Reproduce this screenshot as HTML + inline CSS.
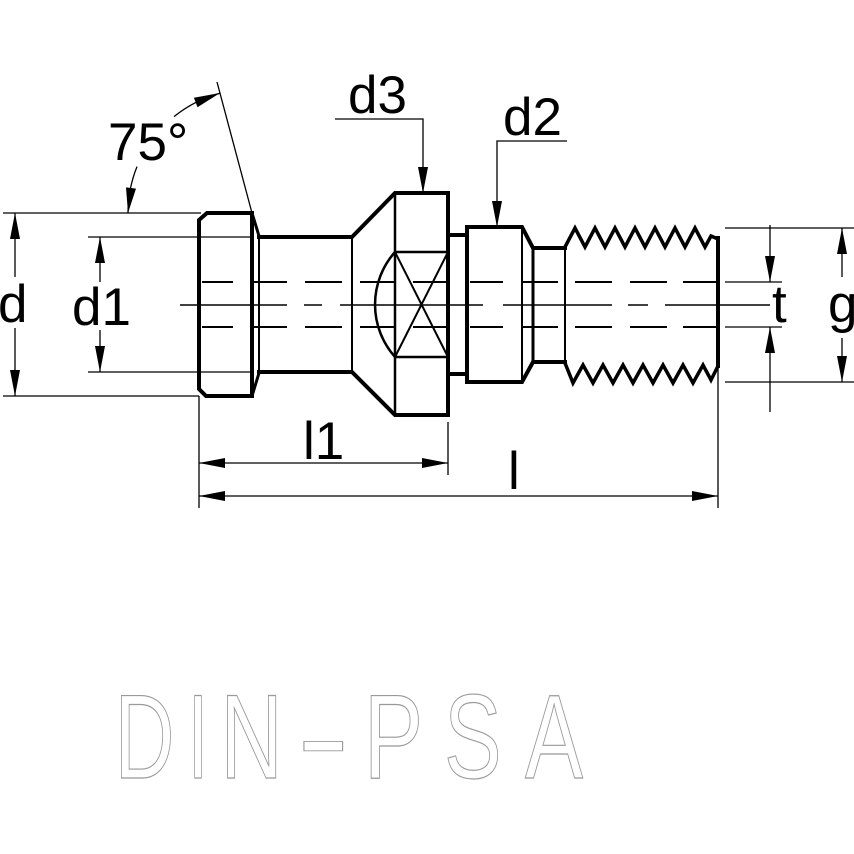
<!DOCTYPE html>
<html>
<head>
<meta charset="utf-8">
<style>
  html, body { margin: 0; padding: 0; background: #fff; }
  svg { display: block; }
  .lbl { font-family: "Liberation Sans", Arial, sans-serif; font-size: 53px; fill: #000; }
  .din { font-family: "Liberation Sans", Arial, sans-serif; font-size: 120px; fill: none; stroke: #999; stroke-width: 1; }
</style>
</head>
<body>
<svg width="854" height="854" viewBox="0 0 854 854" xmlns="http://www.w3.org/2000/svg">
  <rect x="0" y="0" width="854" height="854" fill="#fff"/>

  <!-- ===== Part outline (thick) ===== -->
  <g fill="none" stroke="#000" stroke-width="4" stroke-linejoin="miter" stroke-linecap="square">
    <path d="M207,213 L252,213 L252,396 L206,396 L199,389 L199,220 Z"/>
    <path d="M259,237 L352,237 L395,193 L448,193 L448,415 L395,415 L352,372 L259,372"/>
    <path d="M448,235 L467,235"/>
    <path d="M448,374 L467,374"/>
    <path d="M467,227 L522,227 L533,248 L565,248"/>
    <path d="M467,382 L522,382 L533,362 L565,362"/>
    <path d="M467,227 L467,382"/>
    <path d="M718,238 L718,366"/>
  </g>
  <g fill="none" stroke="#000" stroke-width="3">
    <path d="M252,213 L259,236"/>
    <path d="M252,396 L259,373"/>
  </g>

  <!-- thread -->
  <g fill="none" stroke="#000" stroke-width="3.5" stroke-linejoin="miter">
    <path d="M565,247 L575,228 L585,247 L595,228 L605,247 L615,228 L625,247 L635,228 L645,247 L655,228 L665,247 L675,228 L685,247 L695,228 L705,247 L711,236 L718,239"/>
    <path d="M565,363 L573,383 L583,365 L593,383 L603,365 L613,383 L623,365 L633,383 L643,365 L653,383 L663,365 L673,383 L683,365 L693,383 L703,365 L711,380 L718,366"/>
  </g>

  <!-- internal lines -->
  <g fill="none" stroke="#000">
    <line x1="259" y1="237" x2="259" y2="372" stroke-width="2"/>
    <line x1="352" y1="237" x2="352" y2="372" stroke-width="2"/>
    <line x1="395" y1="193" x2="395" y2="415" stroke-width="2.5"/>
    <line x1="522" y1="227" x2="522" y2="382" stroke-width="2"/>
    <line x1="533" y1="248" x2="533" y2="362" stroke-width="3"/>
    <line x1="565" y1="248" x2="565" y2="362" stroke-width="2"/>
    <line x1="395" y1="252" x2="448" y2="252" stroke-width="2.5"/>
    <line x1="395" y1="357" x2="448" y2="357" stroke-width="2.5"/>
    <line x1="395" y1="252" x2="448" y2="357" stroke-width="2"/>
    <line x1="448" y1="252" x2="395" y2="357" stroke-width="2"/>
    <path d="M395,252 A79,79 0 0 0 395,357" stroke-width="2.5"/>
  </g>

  <!-- hidden lines (dashed) -->
  <g stroke="#000" stroke-width="2" fill="none">
    <path d="M202,282 H233 M252,282 H287 M305,282 H342 M360,282 H395 M413,282 H448 M470,282 H503 M522,282 H558 M575,282 H612 M630,282 H667 M683,282 H718"/>
    <path d="M202,327 H233 M252,327 H287 M305,327 H342 M360,327 H395 M413,327 H448 M470,327 H503 M522,327 H558 M575,327 H612 M630,327 H667 M683,327 H718"/>
  </g>
  <!-- centre line -->
  <g stroke="#000" stroke-width="1.6" fill="none">
    <path d="M180,305 H287 M304,305 H322 M340,305 H483 M503,305 H612 M628,305 H648 M665,305 H770"/>
  </g>

  <!-- ===== Dimension lines (thin) ===== -->
  <g stroke="#000" stroke-width="1.3" fill="none">
    <line x1="3" y1="213" x2="201" y2="213"/>
    <line x1="3" y1="396" x2="199" y2="396"/>
    <line x1="88" y1="237" x2="252" y2="237"/>
    <line x1="88" y1="372" x2="252" y2="372"/>
    <line x1="15" y1="213" x2="15" y2="277"/>
    <line x1="15" y1="328" x2="15" y2="396"/>
    <line x1="100" y1="237" x2="100" y2="282"/>
    <line x1="100" y1="330" x2="100" y2="372"/>
    <line x1="217" y1="82" x2="252" y2="213"/>
    <path d="M128,213 A124,124 0 0 1 137,166.6"/>
    <path d="M174,116.6 A124,124 0 0 1 219.9,93.2"/>
    <path d="M335,119 H423 V193"/>
    <path d="M567,141 H497 V227"/>
    <line x1="199" y1="396" x2="199" y2="508"/>
    <line x1="448" y1="422" x2="448" y2="475"/>
    <line x1="718" y1="366" x2="718" y2="508"/>
    <line x1="199" y1="463" x2="448" y2="463"/>
    <line x1="199" y1="496" x2="718" y2="496"/>
    <line x1="725" y1="228" x2="854" y2="228"/>
    <line x1="725" y1="382" x2="854" y2="382"/>
    <line x1="725" y1="282" x2="782" y2="282"/>
    <line x1="725" y1="327" x2="782" y2="327"/>
    <line x1="770" y1="225" x2="770" y2="282"/>
    <line x1="770" y1="327" x2="770" y2="412"/>
    <line x1="842" y1="228" x2="842" y2="277"/>
    <line x1="842" y1="338" x2="842" y2="382"/>
  </g>

  <!-- arrowheads -->
  <g fill="#000" stroke="none">
    <polygon points="15,213 10,239 20,239"/>
    <polygon points="15,396 10,370 20,370"/>
    <polygon points="100,237 95,263 105,263"/>
    <polygon points="100,372 95,346 105,346"/>
    <polygon points="423,193 418,167 428,167"/>
    <polygon points="497,227 492,201 502,201"/>
    <polygon points="199,463 225,458 225,468"/>
    <polygon points="448,463 422,458 422,468"/>
    <polygon points="199,496 225,491 225,501"/>
    <polygon points="718,496 692,491 692,501"/>
    <polygon points="770,282 765,256 775,256"/>
    <polygon points="770,327 765,353 775,353"/>
    <polygon points="842,228 837,254 847,254"/>
    <polygon points="842,382 837,356 847,356"/>
    <polygon points="128,213 136,188.6 126,187.4"/>
    <polygon points="220,93 197.5,107.2 193.9,97.8"/>
  </g>

  <!-- labels -->
  <text class="lbl" x="108" y="160">75°</text>
  <text class="lbl" x="-2" y="322">d</text>
  <text class="lbl" x="72" y="325">d1</text>
  <text class="lbl" x="348" y="113">d3</text>
  <text class="lbl" x="503" y="135">d2</text>
  <text class="lbl" x="303" y="459">l1</text>
  <text class="lbl" x="508" y="489">l</text>
  <text class="lbl" x="772" y="322">t</text>
  <text class="lbl" x="828" y="322">g</text>

  <!-- DIN-PSA -->
  <text class="din" transform="translate(114.6,778) scale(0.69,1)" vector-effect="non-scaling-stroke">D</text>
  <text class="din" transform="translate(188,778) scale(0.6,1)" vector-effect="non-scaling-stroke">I</text>
  <text class="din" transform="translate(220.4,778) scale(0.72,1)" vector-effect="non-scaling-stroke">N</text>
  <text class="din" transform="translate(296.9,778) scale(1.32,1)" vector-effect="non-scaling-stroke">-</text>
  <text class="din" transform="translate(363.9,778) scale(0.74,1)" vector-effect="non-scaling-stroke">P</text>
  <text class="din" transform="translate(444,778) scale(0.72,1)" vector-effect="non-scaling-stroke">S</text>
  <text class="din" transform="translate(525,778) scale(0.725,1)" vector-effect="non-scaling-stroke">A</text>
</svg>
</body>
</html>
